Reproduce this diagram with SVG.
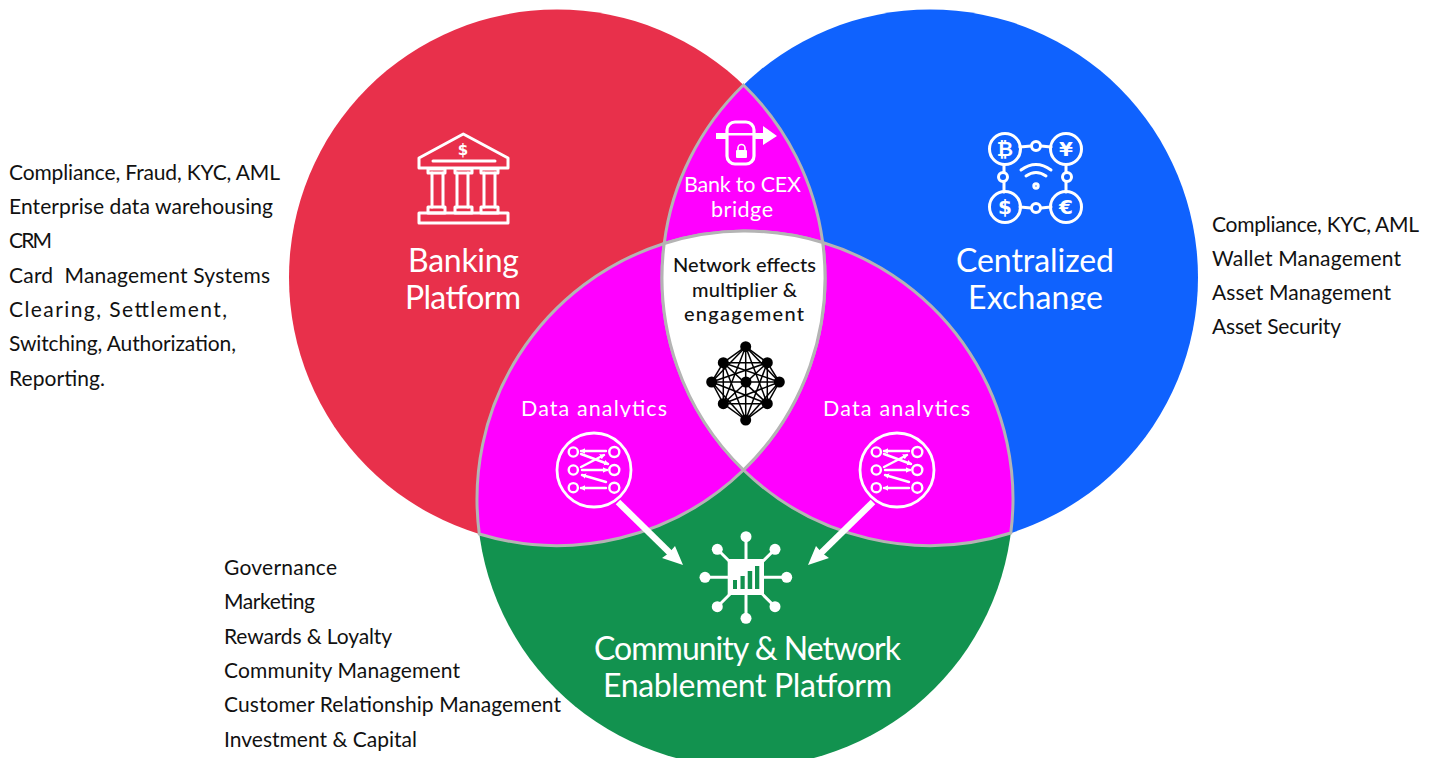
<svg xmlns="http://www.w3.org/2000/svg" width="1435" height="758" viewBox="0 0 1435 758">
<style>
text{font-family:"Lato","Noto Sans","Liberation Sans",sans-serif}
.list{font-size:21px;fill:#111;white-space:pre}
.title{font-size:32px;fill:#fff;text-anchor:middle}
.lab{font-size:21.5px;fill:#fff;text-anchor:middle}
.core{font-size:20px;fill:#111;text-anchor:middle;font-weight:500}
.lens{stroke:#b4b4b4;stroke-width:3}
.mag{fill:#ff00ff}
.ln{fill:none;stroke:#fff;stroke-width:3;stroke-linecap:round;stroke-linejoin:round}
.net line{stroke:#000;stroke-width:1.5}
.sym{font-family:"DejaVu Sans",sans-serif;font-size:20px;font-weight:700;fill:#fff;text-anchor:middle}
.arrow{stroke:#fff;stroke-width:6.5;fill:none}
</style>
<defs>
<marker id="tip" markerWidth="6" markerHeight="6" refX="4" refY="3" orient="auto" markerUnits="userSpaceOnUse"><path d="M0,0.2L5,3L0,5.8z" fill="#fff"/></marker>
<clipPath id="cutEx"><rect x="950" y="270" width="170" height="40"/></clipPath>
<clipPath id="cutDa"><rect x="500" y="395" width="500" height="22"/></clipPath>
<g id="dataIcon">
<circle cx="594" cy="470" r="37" class="ln" style="stroke-width:2.8"/>
<g class="ln" style="stroke-width:2.4">
<circle cx="573.3" cy="452" r="4.6"/><circle cx="573.3" cy="470" r="4.6"/><circle cx="573.3" cy="487.7" r="4.6"/>
<circle cx="614.3" cy="452" r="5"/><circle cx="614.3" cy="470" r="5"/><circle cx="614.3" cy="487.7" r="5"/>
<path marker-end="url(#tip)" d="M606,451H581"/>
<path marker-end="url(#tip)" d="M581,454L608,464"/>
<path marker-end="url(#tip)" d="M581,467L604,455"/>
<path marker-end="url(#tip)" d="M582,470H607"/>
<path marker-end="url(#tip)" d="M606,482L582,475"/>
<path marker-end="url(#tip)" d="M606,488H581"/>
</g>
</g>
</defs>

<g id="banking-platform">
<circle cx="557" cy="277.5" r="268" fill="#e8304b"/>
<text class="title" x="463.5" y="272" textLength="111" lengthAdjust="spacing">Banking</text>
<text class="title" x="463" y="309" textLength="116" lengthAdjust="spacing">Platform</text>
<g class="ln">
<path d="M463.3,134L508,158V168H419V158Z"/>
<path d="M433,161H495"/>
<path d="M428,169H445V173H428ZM455,169H472V173H455ZM481,169H498V173H481Z"/>
<path d="M432,173V207M443,173V207M457,173V207M468,173V207M484,173V207M495,173V207"/>
<path d="M428,207H445V213H428ZM455,207H472V213H455ZM481,207H498V213H481Z"/>
<path d="M419,213H508V223H419Z"/>
</g>
<text class="sym" style="font-size:15px" x="463" y="155">$</text>
</g>

<g id="centralized-exchange">
<circle cx="930" cy="277.5" r="268" fill="#0f62fe"/>
<text class="title" x="1035" y="272" textLength="158" lengthAdjust="spacing">Centralized</text>
<text class="title" x="1035.5" y="309" textLength="135" lengthAdjust="spacing" clip-path="url(#cutEx)">Exchange</text>
<g class="ln">
<circle cx="1005" cy="149" r="15.5"/><circle cx="1066" cy="149" r="15.5"/><circle cx="1005" cy="207" r="15.5"/><circle cx="1066" cy="207" r="15.5"/>
<circle cx="1036" cy="146" r="4.5"/><circle cx="1003" cy="177" r="4.5"/><circle cx="1067" cy="177" r="4.5"/><circle cx="1036" cy="208" r="4.5"/>
<path d="M1020,147L1031,146M1041,146L1051,147M1004,165V172.5M1004,181.5V192M1066,165V172.5M1066,181.5V192M1020,207L1031,208M1041,208L1051,207"/>
<path d="M1021,170Q1036,159 1051,170M1026,176Q1036,169 1046,176"/>
<circle cx="1036" cy="186" r="2.2"/>
</g>
<text class="sym" x="1005" y="156">₿</text>
<text class="sym" x="1066" y="156">¥</text>
<text class="sym" x="1005" y="214">$</text>
<text class="sym" x="1066" y="214">€</text>
</g>

<g id="community-network">
<circle cx="745" cy="499" r="268" fill="#12924f"/>
<text class="title" x="747.5" y="660" textLength="307" lengthAdjust="spacing">Community &amp; Network</text>
<text class="title" x="747.5" y="697" textLength="289" lengthAdjust="spacing">Enablement Platform</text>
<g stroke="#fff" stroke-width="3">
<path d="M746,537V618M705,577.3H787M717.3,549.3L775,606.7M775,549.3L717.3,606.7"/>
</g>
<g fill="#fff">
<circle cx="746" cy="536.7" r="5.5"/><circle cx="746" cy="618.3" r="5.5"/><circle cx="705" cy="577.3" r="5.5"/><circle cx="786.7" cy="577.3" r="5.5"/>
<circle cx="717.3" cy="549.3" r="5.5"/><circle cx="775" cy="549.3" r="5.5"/><circle cx="717.3" cy="606.7" r="5.5"/><circle cx="775" cy="606.7" r="5.5"/>
<rect x="727.7" y="559" width="36.3" height="36"/>
</g>
<g fill="#12924f">
<rect x="733" y="580" width="4" height="9"/><rect x="740.5" y="576" width="4.2" height="13"/><rect x="747.7" y="571" width="4.5" height="18"/><rect x="755" y="566" width="4.3" height="23"/>
</g>
</g>

<g id="bank-to-cex-bridge">
<path class="lens mag" d="M743.5,85A268,268 0 0 0 664.2,243.5A268,268 0 0 1 822.7,242.5A268,268 0 0 0 743.5,85Z"/>
<rect x="727" y="122" width="27" height="42" rx="8" class="ln" style="stroke-width:3.2"/>
<path d="M716,133H727V139H716ZM727,133H754V135.5H727ZM754,133H763V126L777,136L763,145V139H754Z" fill="#fff"/>
<rect x="736" y="150" width="11" height="8" rx="1" fill="#fff"/>
<path d="M738,150V148A3.5,3.5 0 0 1 745,148V150" fill="none" stroke="#fff" stroke-width="1.6"/>
<text class="lab" x="742.5" y="192" textLength="117" lengthAdjust="spacing">Bank to CEX</text>
<text class="lab" x="742" y="217" textLength="62" lengthAdjust="spacing">bridge</text>
</g>

<g id="data-analytics-left">
<path class="lens mag" d="M664.2,243.5A268,268 0 0 0 479.3,534A268,268 0 0 0 743.5,470A268,268 0 0 1 664.2,243.5Z"/>
<text class="lab" x="594" y="416" textLength="146" lengthAdjust="spacing" clip-path="url(#cutDa)">Data analytics</text>
<use href="#dataIcon"/>
</g>

<g id="data-analytics-right">
<path class="lens mag" d="M822.7,242.5A268,268 0 0 1 1010.8,533A268,268 0 0 1 743.5,470A268,268 0 0 0 822.7,242.5Z"/>
<text class="lab" x="896.5" y="416" textLength="147" lengthAdjust="spacing" clip-path="url(#cutDa)">Data analytics</text>
<use href="#dataIcon" x="303"/>
</g>

<g id="network-effects">
<path class="lens" fill="#fff" d="M664.2,243.5A268,268 0 0 1 822.7,242.5A268,268 0 0 1 743.5,470A268,268 0 0 1 664.2,243.5Z"/>
<text class="core" x="744.5" y="272" textLength="143" lengthAdjust="spacing">Network effects</text>
<text class="core" x="744.5" y="297" textLength="105" lengthAdjust="spacing">multiplier &amp;</text>
<text class="core" x="744" y="321" textLength="120" lengthAdjust="spacing">engagement</text>
<g class="net">
<line x1="745.7" y1="346.7" x2="723.3" y2="362.7"/><line x1="745.7" y1="346.7" x2="767.3" y2="362.7"/><line x1="745.7" y1="346.7" x2="711.7" y2="382"/><line x1="745.7" y1="346.7" x2="779.3" y2="382"/><line x1="745.7" y1="346.7" x2="723.3" y2="403.7"/><line x1="745.7" y1="346.7" x2="767.3" y2="403.7"/><line x1="745.7" y1="346.7" x2="745.7" y2="420"/>
<line x1="723.3" y1="362.7" x2="767.3" y2="362.7"/><line x1="723.3" y1="362.7" x2="711.7" y2="382"/><line x1="723.3" y1="362.7" x2="779.3" y2="382"/><line x1="723.3" y1="362.7" x2="723.3" y2="403.7"/><line x1="723.3" y1="362.7" x2="767.3" y2="403.7"/><line x1="723.3" y1="362.7" x2="745.7" y2="420"/>
<line x1="767.3" y1="362.7" x2="711.7" y2="382"/><line x1="767.3" y1="362.7" x2="779.3" y2="382"/><line x1="767.3" y1="362.7" x2="723.3" y2="403.7"/><line x1="767.3" y1="362.7" x2="767.3" y2="403.7"/><line x1="767.3" y1="362.7" x2="745.7" y2="420"/>
<line x1="711.7" y1="382" x2="779.3" y2="382"/><line x1="711.7" y1="382" x2="723.3" y2="403.7"/><line x1="711.7" y1="382" x2="767.3" y2="403.7"/><line x1="711.7" y1="382" x2="745.7" y2="420"/>
<line x1="779.3" y1="382" x2="723.3" y2="403.7"/><line x1="779.3" y1="382" x2="767.3" y2="403.7"/><line x1="779.3" y1="382" x2="745.7" y2="420"/>
<line x1="723.3" y1="403.7" x2="767.3" y2="403.7"/><line x1="723.3" y1="403.7" x2="745.7" y2="420"/><line x1="767.3" y1="403.7" x2="745.7" y2="420"/>
</g>
<g fill="#000">
<circle cx="745.7" cy="346.7" r="5.5"/><circle cx="723.3" cy="362.7" r="5.5"/><circle cx="767.3" cy="362.7" r="5.5"/><circle cx="711.7" cy="382" r="5.5"/><circle cx="746" cy="382" r="5.5"/><circle cx="779.3" cy="382" r="5.5"/><circle cx="723.3" cy="403.7" r="5.5"/><circle cx="767.3" cy="403.7" r="5.5"/><circle cx="745.7" cy="420" r="5.5"/>
</g>
</g>

<g id="connectors">
<path class="arrow" d="M618,502L672,555"/>
<path fill="#fff" d="M683,565L662,558L669,553L675,546Z"/>
<path class="arrow" d="M873,502L819,555"/>
<path fill="#fff" d="M808,565L829,558L822,553L816,546Z"/>
</g>

<g id="banking-list">
<text class="list" x="9" y="180" textLength="271" lengthAdjust="spacing">Compliance, Fraud, KYC, AML</text>
<text class="list" x="9" y="214" textLength="264" lengthAdjust="spacing">Enterprise data warehousing</text>
<text class="list" x="9" y="248" textLength="43" lengthAdjust="spacing">CRM</text>
<text class="list" x="9" y="283" textLength="261" lengthAdjust="spacing">Card  Management Systems</text>
<text class="list" x="9" y="317" textLength="218" lengthAdjust="spacing">Clearing, Settlement,</text>
<text class="list" x="9" y="351" textLength="227" lengthAdjust="spacing">Switching, Authorization,</text>
<text class="list" x="9" y="386" textLength="96" lengthAdjust="spacing">Reporting.</text>
</g>
<g id="exchange-list">
<text class="list" x="1212" y="232" textLength="207" lengthAdjust="spacing">Compliance, KYC, AML</text>
<text class="list" x="1212" y="266" textLength="189" lengthAdjust="spacing">Wallet Management</text>
<text class="list" x="1212" y="300" textLength="179" lengthAdjust="spacing">Asset Management</text>
<text class="list" x="1212" y="334" textLength="129" lengthAdjust="spacing">Asset Security</text>
</g>
<g id="community-list">
<text class="list" x="224" y="575" textLength="113" lengthAdjust="spacing">Governance</text>
<text class="list" x="224" y="609" textLength="91" lengthAdjust="spacing">Marketing</text>
<text class="list" x="224" y="644" textLength="168" lengthAdjust="spacing">Rewards &amp; Loyalty</text>
<text class="list" x="224" y="678" textLength="236" lengthAdjust="spacing">Community Management</text>
<text class="list" x="224" y="712" textLength="337" lengthAdjust="spacing">Customer Relationship Management</text>
<text class="list" x="224" y="747" textLength="193" lengthAdjust="spacing">Investment &amp; Capital</text>
</g>
</svg>
